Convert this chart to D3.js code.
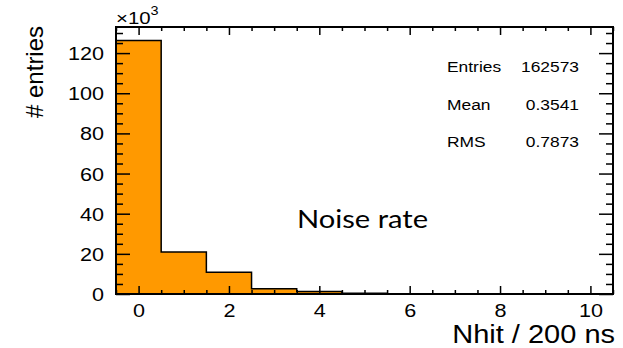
<!DOCTYPE html>
<html>
<head>
<meta charset="utf-8">
<script src="https://cdn.jsdelivr.net/npm/d3@7"></script>
<style>
  body { margin: 0; background: #fff; }
  text { font-family: "Liberation Sans", Arial, sans-serif; fill: #000; }
</style>
</head>
<body>
<div id="chart"></div>
<script>
// histogram: Nhit per 200 ns, contents in units of 10^3
var binCenters = [0, 1, 2, 3, 4, 5, 6, 7, 8, 9, 10];
var binCounts = [126.3, 20.9, 10.8, 2.6, 1.3, 0.4, 0.1, 0.03, 0, 0, 0];
var xMajor = [0, 2, 4, 6, 8, 10];
var yMajor = [0, 20, 40, 60, 80, 100, 120];
var statLabels = ["Entries", "Mean", "RMS"];
var statValues = ["162573", "0.3541", "0.7873"];

var W = 623, H = 348;
var padL = 116, padR = 613, padT = 27, padB = 294;
var sx = 1.2; // text looks stretched sideways

var svg = d3.select("#chart").append("svg").attr("width", W).attr("height", H);

var x = d3.scaleLinear().domain([-0.5, 10.5]).range([padL, padR]);
var y = d3.scaleLinear().domain([0, 133]).range([padB, padT]);

// filled histogram with step outline
var pts = [];
binCenters.forEach(function(c, i) {
  pts.push([c - 0.5, binCounts[i]]);
  pts.push([c + 0.5, binCounts[i]]);
});
var area = d3.area().x(function(d) { return x(d[0]); }).y0(y(0)).y1(function(d) { return y(d[1]); });
var line = d3.line().x(function(d) { return x(d[0]); }).y(function(d) { return y(d[1]); });
svg.append("path").attr("d", area(pts)).attr("fill", "#ff9900");
svg.append("path").attr("d", line([[-0.5, 0]].concat(pts).concat([[10.5, 0]])))
  .attr("fill", "none").attr("stroke", "#000").attr("stroke-width", 1.5);

// minor ticks
var xMinor = d3.range(-0.5, 10.51, 0.5).filter(function(v) { return xMajor.indexOf(v) < 0; });
var yMinor = d3.range(0, 131, 5).filter(function(v) { return yMajor.indexOf(v) < 0; });

function axis(gen, tr) {
  var g = svg.append("g").attr("transform", tr).call(gen);
  g.select(".domain").remove();
  g.selectAll("line").attr("stroke", "#000").attr("stroke-width", 1.5);
  return g;
}
var n = function() { return ""; };
axis(d3.axisBottom(x).tickValues(xMinor).tickSize(-4).tickFormat(n), "translate(0," + padB + ")");
axis(d3.axisTop(x).tickValues(xMinor).tickSize(-4).tickFormat(n), "translate(0," + padT + ")");
axis(d3.axisTop(x).tickValues(xMajor).tickSize(-8).tickFormat(n), "translate(0," + padT + ")");
axis(d3.axisLeft(y).tickValues(yMinor).tickSize(-7).tickFormat(n), "translate(" + padL + ",0)");
axis(d3.axisRight(y).tickValues(yMinor).tickSize(-7).tickFormat(n), "translate(" + padR + ",0)");
axis(d3.axisRight(y).tickValues(yMajor).tickSize(-14).tickFormat(n), "translate(" + padR + ",0)");

var gx = axis(d3.axisBottom(x).tickValues(xMajor).tickSize(-8).tickFormat(d3.format("d")), "translate(0," + padB + ")");
gx.selectAll("text").attr("y", 23).attr("dy", 0).attr("font-size", 18)
  .attr("transform", "scale(" + sx + ",1)");
var gy = axis(d3.axisLeft(y).tickValues(yMajor).tickSize(-14).tickFormat(d3.format("d")), "translate(" + padL + ",0)");
gy.selectAll("text").attr("x", -12 / sx).attr("dy", "0.36em").attr("font-size", 18)
  .attr("transform", "scale(" + sx + ",1)");

// frame
svg.append("rect").attr("x", padL).attr("y", padT).attr("width", padR - padL).attr("height", padB - padT)
  .attr("fill", "none").attr("stroke", "#000").attr("stroke-width", 2);

function label(txt, px, py, size, anchor, s) {
  return svg.append("text").attr("transform", "translate(" + px + "," + py + ") scale(" + (s || sx) + ",1)")
    .attr("font-size", size).attr("text-anchor", anchor || "start").text(txt);
}

// exponent
var ex = label("\u00d710", 116, 24, 17);
ex.append("tspan").attr("font-size", 12).attr("dy", -9).text("3");

// axis titles
label("Nhit / 200 ns", 615, 343, 25, "end", 1.16);
svg.append("text").attr("transform", "translate(43,118) rotate(-90)")
  .attr("font-size", 24).text("# entries");

// stats box text
statLabels.forEach(function(s, i) {
  label(s, 447, 72 + i * 37.5, 14.5);
  label(statValues[i], 579, 72 + i * 37.5, 14.5, "end");
});

svg.append("text").attr("transform", "translate(297,228) scale(1.12,1)").attr("font-size", 26)
  .style("font-family", "Lato, 'Open Sans', sans-serif").attr("fill", "#111").text("Noise rate");
</script>
</body>
</html>
